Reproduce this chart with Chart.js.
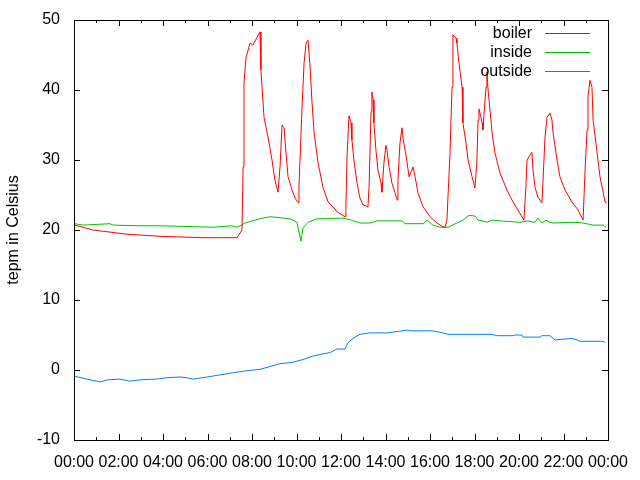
<!DOCTYPE html>
<html>
<head>
<meta charset="utf-8">
<script src="https://cdn.jsdelivr.net/npm/chart.js@4/dist/chart.umd.min.js"></script>
<style>
  html, body { margin: 0; padding: 0; background: #fff; }
</style>
</head>
<body>
<canvas id="chart" width="640" height="480"></canvas>
<script>
// Temperature log for one day, time in decimal hours
const boilerHours = [0.04, 0.85, 2.38, 3.87, 5.80, 7.33, 7.55, 7.60, 7.64, 7.73, 7.91, 8.04, 8.36, 8.40, 8.49, 8.54, 8.72, 8.90, 9.03, 9.17,
  9.26, 9.35, 9.44, 9.53, 9.62, 9.80, 9.93, 10.07, 10.11, 10.25, 10.34, 10.43, 10.52, 10.61, 10.70, 10.79, 10.97, 11.19, 11.42, 11.73,
  11.82, 12.18, 12.22, 12.27, 12.36, 12.45, 12.49, 12.58, 12.72, 12.85, 12.99, 13.21, 13.26, 13.35, 13.39, 13.44, 13.48, 13.57, 13.66, 13.80,
  13.84, 13.93, 14.02, 14.07, 14.16, 14.29, 14.43, 14.52, 14.56, 14.65, 14.74, 14.79, 14.92, 15.06, 15.15, 15.24, 15.33, 15.46, 15.69, 16.00,
  16.31, 16.67, 16.76, 16.90, 16.99, 17.03, 17.17, 17.21, 17.30, 17.44, 17.48, 17.62, 17.71, 17.89, 18.02, 18.11, 18.16, 18.20, 18.29, 18.34,
  18.38, 18.43, 18.52, 18.56, 18.61, 18.70, 18.79, 18.92, 19.15, 19.46, 19.73, 20.04, 20.22, 20.31, 20.36, 20.49, 20.58, 20.63, 20.72, 20.85,
  21.03, 21.08, 21.17, 21.26, 21.39, 21.48, 21.53, 21.71, 21.84, 22.07, 22.38, 22.65, 22.88, 22.97, 23.06, 23.10, 23.19, 23.28, 23.33, 23.51,
  23.64, 23.87, 23.91];
const boilerTemps = [20.7, 20.0, 19.4, 19.1, 18.9, 18.9, 20.0, 29.0, 41.0, 44.6, 46.7, 46.4, 48.3, 42.9, 38.6, 36.1, 33.3, 30.0, 27.1, 25.4,
  29.0, 35.0, 34.6, 31.0, 27.6, 25.7, 24.6, 23.9, 26.1, 37.6, 43.9, 46.7, 47.1, 43.3, 38.1, 33.9, 29.6, 26.1, 24.0, 23.0,
  22.6, 21.9, 23.3, 30.4, 36.3, 35.3, 32.9, 30.0, 26.7, 24.6, 23.6, 23.3, 26.1, 36.9, 39.7, 38.6, 35.3, 31.4, 28.6, 26.7,
  25.4, 29.6, 32.1, 31.4, 29.0, 26.7, 25.3, 24.3, 27.1, 32.4, 34.6, 33.1, 30.7, 27.6, 28.3, 29.0, 27.6, 25.3, 23.3, 21.9,
  21.0, 20.3, 21.4, 31.0, 40.4, 47.9, 47.4, 46.7, 43.9, 40.4, 35.3, 32.4, 30.0, 27.6, 26.0, 30.0, 35.7, 37.3, 36.1, 35.3,
  34.3, 36.7, 40.4, 42.6, 40.0, 37.1, 33.9, 31.0, 28.1, 25.7, 24.0, 22.4, 21.4, 26.1, 30.0, 30.7, 31.1, 28.6, 26.1, 24.7,
  23.9, 27.1, 33.3, 36.1, 36.7, 35.7, 33.9, 30.0, 27.6, 25.7, 24.0, 22.9, 21.4, 28.6, 34.3, 39.0, 41.4, 40.4, 35.7, 31.0,
  27.6, 24.0, 23.9];

const insideHours = [0.04, 0.40, 1.62, 1.75, 2.97, 3.87, 6.25, 7.10, 7.33, 7.46, 7.69, 8.00, 8.36, 8.81, 9.71, 10.02, 10.07, 10.20, 10.29, 10.52,
  10.92, 12.09, 12.49, 12.85, 13.30, 13.62, 14.74, 14.88, 15.69, 15.87, 16.13, 16.45, 16.81, 17.21, 17.48, 17.75, 18.02, 18.16, 18.38, 18.56,
  18.79, 19.15, 20.04, 20.36, 20.72, 20.85, 21.03, 21.21, 21.39, 21.53, 22.43, 22.88, 23.33, 23.78, 23.91];
const insideTemps = [20.9, 20.7, 20.9, 20.7, 20.6, 20.6, 20.4, 20.6, 20.4, 20.6, 21.0, 21.3, 21.6, 21.9, 21.6, 21.1, 20.3, 18.4, 20.3, 21.1,
  21.6, 21.7, 21.4, 21.0, 21.0, 21.3, 21.3, 20.9, 20.9, 21.4, 20.7, 20.4, 20.4, 21.0, 21.4, 22.1, 22.0, 21.4, 21.3, 21.1,
  21.4, 21.3, 21.1, 21.3, 21.1, 21.7, 21.0, 21.4, 21.1, 21.0, 21.1, 21.0, 20.7, 20.7, 20.4];

const outsideHours = [0.04, 0.58, 1.17, 1.53, 2.07, 2.52, 2.97, 3.73, 4.18, 4.76, 5.08, 5.35, 5.98, 6.56, 7.15, 7.78, 8.36, 8.81, 9.26, 9.84,
  10.29, 10.74, 11.37, 11.51, 11.64, 11.82, 12.18, 12.31, 12.54, 12.85, 13.30, 14.07, 14.52, 15.01, 15.10, 16.09, 16.58, 16.81, 18.79, 19.01,
  19.73, 19.82, 20.13, 20.18, 20.94, 21.03, 21.39, 21.62, 21.98, 22.38, 22.61, 22.74, 23.78, 23.87];
const outsideTemps = [-0.9, -1.3, -1.7, -1.4, -1.3, -1.6, -1.4, -1.3, -1.1, -1.0, -1.1, -1.3, -1.0, -0.7, -0.4, -0.1, 0.1, 0.5, 0.9, 1.1,
  1.5, 2.0, 2.4, 2.5, 2.7, 3.0, 3.0, 3.9, 4.5, 5.1, 5.3, 5.3, 5.5, 5.7, 5.6, 5.6, 5.3, 5.1, 5.1, 4.9,
  4.9, 5.0, 5.0, 4.7, 4.7, 4.9, 4.9, 4.3, 4.4, 4.5, 4.3, 4.1, 4.1, 3.9];

const xTickLabels = ['00:00', '02:00', '04:00', '06:00', '08:00', '10:00', '12:00', '14:00', '16:00', '18:00', '20:00', '22:00', '00:00'];

const FONT = '"Liberation Sans", Arial, sans-serif';

function toPoints(hours, temps) {
  return hours.map((h, i) => ({ x: h, y: temps[i] }));
}

// gnuplot style frame: full border box with inward ticks on all four sides
const frameTicks = {
  id: 'frameTicks',
  afterDatasetsDraw(chart) {
    const { ctx, chartArea: a, scales: { x, y } } = chart;
    ctx.save();
    ctx.strokeStyle = '#000';
    ctx.lineWidth = 1;
    ctx.beginPath();
    x.ticks.forEach(t => {
      const major = Math.round(x.getPixelForValue(t.value)) + 0.5;
      ctx.moveTo(major, a.bottom); ctx.lineTo(major, a.bottom - 6);
      ctx.moveTo(major, a.top); ctx.lineTo(major, a.top + 6);
      if (t.value < x.max) {
        const minor = Math.round(x.getPixelForValue(t.value + 1)) + 0.5;
        ctx.moveTo(minor, a.bottom); ctx.lineTo(minor, a.bottom - 3);
        ctx.moveTo(minor, a.top); ctx.lineTo(minor, a.top + 3);
      }
    });
    y.ticks.forEach(t => {
      const py = Math.round(y.getPixelForValue(t.value)) + 0.5;
      ctx.moveTo(a.left, py); ctx.lineTo(a.left + 6, py);
      ctx.moveTo(a.right, py); ctx.lineTo(a.right - 6, py);
    });
    ctx.stroke();
    ctx.strokeRect(Math.round(a.left) + 0.5, Math.round(a.top) + 0.5,
      Math.round(a.right - a.left), Math.round(a.bottom - a.top));
    ctx.restore();
  }
};

// key in the top right corner: label right aligned, line sample after it
const gnuKey = {
  id: 'gnuKey',
  afterDatasetsDraw(chart) {
    const { ctx, chartArea: a } = chart;
    ctx.save();
    ctx.font = '16px ' + FONT;
    ctx.textAlign = 'right';
    ctx.textBaseline = 'middle';
    chart.data.datasets.forEach((ds, i) => {
      const yy = a.top + 13 + i * 19;
      ctx.fillStyle = '#000';
      ctx.fillText(ds.label, a.right - 76, yy + 1);
      ctx.strokeStyle = ds.borderColor;
      ctx.lineWidth = 1;
      ctx.beginPath();
      ctx.moveTo(a.right - 63, yy + 0.5);
      ctx.lineTo(a.right - 18, yy + 0.5);
      ctx.stroke();
    });
    ctx.restore();
  }
};

new Chart(document.getElementById('chart'), {
  type: 'line',
  data: {
    datasets: [
      { label: 'boiler', data: toPoints(boilerHours, boilerTemps), borderColor: '#ff0000' },
      { label: 'inside', data: toPoints(insideHours, insideTemps), borderColor: '#00c000' },
      { label: 'outside', data: toPoints(outsideHours, outsideTemps), borderColor: '#0080ff' }
    ]
  },
  options: {
    responsive: false,
    animation: false,
    layout: { padding: { left: 0, top: 20, right: 32, bottom: 0 } },
    elements: {
      line: { borderWidth: 1, tension: 0 },
      point: { radius: 0 }
    },
    plugins: {
      legend: { display: false },
      tooltip: { enabled: false }
    },
    scales: {
      x: {
        type: 'linear',
        min: 0,
        max: 24,
        grid: { display: false, drawTicks: false },
        border: { display: false },
        ticks: {
          stepSize: 2,
          autoSkip: false,
          maxRotation: 0,
          padding: 13,
          color: '#000',
          font: { family: FONT, size: 16 },
          callback: function(value, index) {
            return xTickLabels[index];
          }
        },
        afterFit: function(scale) {
          scale.height = 40;
          scale.paddingLeft = 0;
          scale.paddingRight = 0;
        }
      },
      y: {
        min: -10,
        max: 50,
        grid: { display: false, drawTicks: false },
        border: { display: false },
        ticks: {
          stepSize: 10,
          padding: 14,
          color: '#000',
          font: { family: FONT, size: 16 }
        },
        title: {
          display: true,
          text: 'tepm in Celsius',
          color: '#000',
          font: { family: FONT, size: 16 },
          padding: { top: 4, bottom: 0 }
        },
        afterFit: function(scale) {
          // fixed plot box: 74px wide axis, no extra room for end labels
          scale.width = 74;
          scale.paddingTop = 0;
          scale.paddingBottom = 0;
        }
      }
    }
  },
  plugins: [frameTicks, gnuKey]
});
</script>
</body>
</html>
